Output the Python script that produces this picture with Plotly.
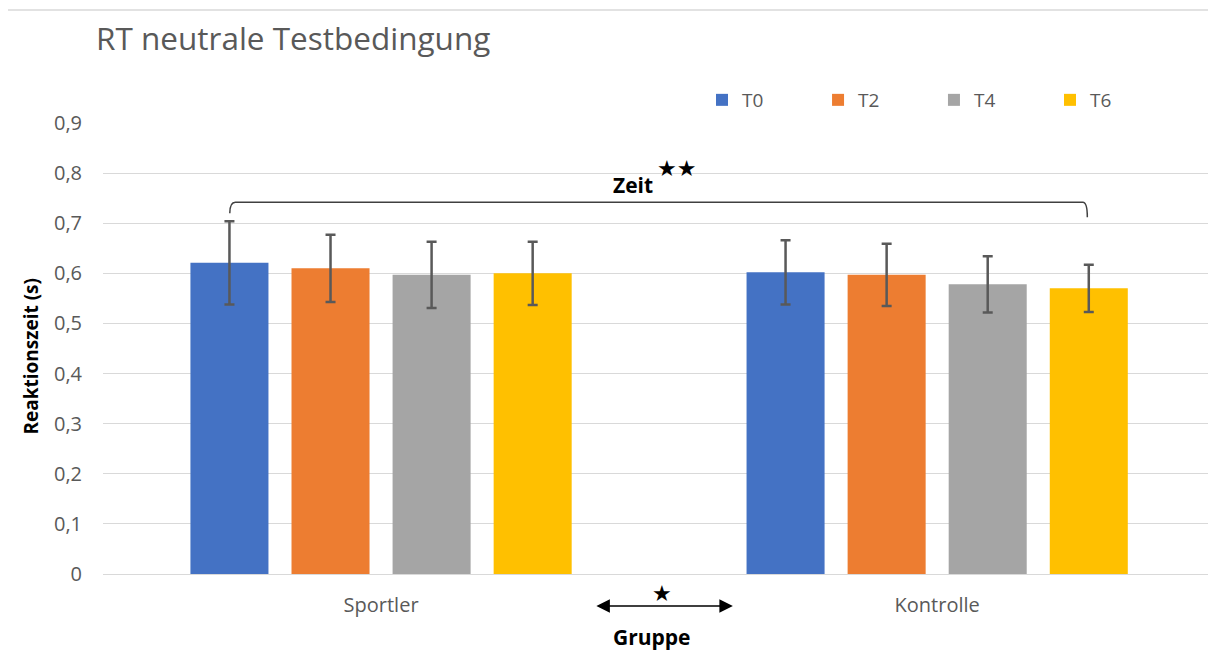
import plotly.graph_objects as go

# Gruppen und Messzeitpunkte
groups = ["Sportler", "Kontrolle"]
timepoints = ["T0", "T2", "T4", "T6"]

# Mittlere Reaktionszeit (s) je Messzeitpunkt: [Sportler, Kontrolle]
rt_t0 = [0.621, 0.602]
rt_t2 = [0.610, 0.597]
rt_t4 = [0.597, 0.578]
rt_t6 = [0.600, 0.570]

# Standardabweichungen: [Sportler, Kontrolle]
sd_t0 = [0.083, 0.064]
sd_t2 = [0.067, 0.062]
sd_t4 = [0.066, 0.056]
sd_t6 = [0.063, 0.047]

y_ticks = [0, 0.1, 0.2, 0.3, 0.4, 0.5, 0.6, 0.7, 0.8, 0.9]
y_tick_text = ["0", "0,1", "0,2", "0,3", "0,4", "0,5", "0,6", "0,7", "0,8", "0,9"]

means = [rt_t0, rt_t2, rt_t4, rt_t6]
sds = [sd_t0, sd_t2, sd_t4, sd_t6]
colors = ["#4472C4", "#ED7D31", "#A5A5A5", "#FFC000"]

FONT = "Open Sans"
GREY = "#595959"

# each time point gets its own single-entry legend, spaced evenly above the plot
legend_names = ["legend", "legend2", "legend3", "legend4"]
legend_x = [0.5421, 0.6471, 0.7520, 0.8570]

fig = go.Figure()
for name, m, s, c, lg in zip(timepoints, means, sds, colors, legend_names):
    fig.add_trace(go.Bar(
        name=name, x=groups, y=m, marker=dict(color=c, line=dict(width=0)),
        error_y=dict(type="data", array=s, visible=True, color=GREY,
                     thickness=2.5, width=5),
        legend=lg, showlegend=True,
    ))

legend_style = dict(orientation="h", xanchor="left", y=1.051, yanchor="middle",
                    bgcolor="rgba(0,0,0,0)", visible=True,
                    font=dict(family=FONT, size=19, color=GREY))

fig.update_layout(
    width=1208, height=651,
    showlegend=True,
    margin=dict(l=103, r=0, t=123, b=77, autoexpand=False),
    paper_bgcolor="white", plot_bgcolor="white",
    barmode="group", bargap=0.273, bargroupgap=0.228,
    font=dict(family=FONT, color=GREY, size=18),
    title=dict(text="RT neutrale Testbedingung", xref="container", yref="container",
               x=96 / 1208, xanchor="left", y=1 - 39 / 651, yanchor="middle",
               font=dict(family=FONT, size=31.5, color=GREY)),
    legend=dict(x=legend_x[0], **legend_style),
    legend2=dict(x=legend_x[1], **legend_style),
    legend3=dict(x=legend_x[2], **legend_style),
    legend4=dict(x=legend_x[3], **legend_style),
    xaxis=dict(range=[-0.5, 1.487], showgrid=False, showline=True,
               linecolor="#d9d9d9", linewidth=1, ticks="",
               tickfont=dict(family=FONT, size=20, color=GREY),
               ticklabelstandoff=13),
    yaxis=dict(range=[0, 0.9], tickvals=y_ticks, ticktext=y_tick_text,
               showgrid=True, gridcolor="#d9d9d9", gridwidth=1, zeroline=False,
               tickfont=dict(family=FONT, size=20, color=GREY),
               ticklabelstandoff=20),
)

# Rahmenlinie oben
fig.add_shape(type="line", xref="paper", yref="paper",
              x0=(8 - 103) / 1105, x1=1.0, y0=1.2506, y1=1.2506,
              line=dict(color="#d9d9d9", width=1.5))

# Klammer für den Zeiteffekt
fig.add_shape(type="path", xref="x", yref="y",
              path="M -0.272,0.720 Q -0.272,0.742 -0.262,0.742 L 1.262,0.742 "
                   "Q 1.270,0.742 1.270,0.712",
              line=dict(color="#404040", width=1.5))

fig.add_annotation(x=0.453, y=0.776, xref="x", yref="y", text="<b>Zeit</b>",
                   xanchor="center", yanchor="middle",
                   showarrow=False, font=dict(family=FONT, size=21, color="black"))
fig.add_annotation(x=0.532, y=0.81, xref="x", yref="y", text="★★",
                   xanchor="center", yanchor="middle",
                   showarrow=False, font=dict(family="DejaVu Sans", size=22, color="black"))

# Doppelpfeil für den Gruppeneffekt
fig.add_annotation(x=0.570, y=-0.071, ax=-138, ay=0,
                   xref="paper", yref="paper", axref="pixel", ayref="pixel",
                   text="", showarrow=True, arrowhead=2, arrowside="end+start",
                   arrowsize=1.8, arrowwidth=1.5, arrowcolor="black")
fig.add_annotation(x=0.506, y=-0.044, xref="paper", yref="paper", text="★",
                   xanchor="center", yanchor="middle",
                   showarrow=False, font=dict(family="DejaVu Sans", size=22, color="black"))
fig.add_annotation(x=0.497, y=-0.140, xref="paper", yref="paper", text="<b>Gruppe</b>",
                   xanchor="center", yanchor="middle",
                   showarrow=False, font=dict(family=FONT, size=21, color="black"))

# Achsentitel
fig.add_annotation(x=(31 - 103) / 1105, y=0.482, xref="paper", yref="paper",
                   xanchor="center", yanchor="middle",
                   text="<b>Reaktionszeit (s)</b>", textangle=-90, showarrow=False,
                   font=dict(family=FONT, size=19, color="black"))

fig.write_html("out.html")
